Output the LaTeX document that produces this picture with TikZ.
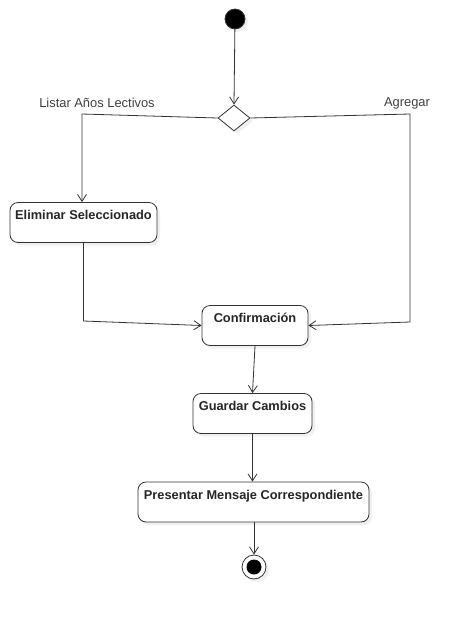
\documentclass[tikz,border=0pt]{standalone}
\usepackage{fontspec}
\setmainfont{Liberation Sans}
\usetikzlibrary{arrows.meta,shapes.geometric,shadows}

\begin{document}
\begin{tikzpicture}[
            x=1pt, y=-1pt,
            line width=0.8pt,
            every node/.style={draw=black!80, text=black!85},
            accion/.style={rectangle, rounded corners=8pt, fill=white,
                font=\fontsize{12.8}{14}\selectfont\bfseries,
                inner xsep=2pt, inner ysep=3pt, text height=14pt, text depth=20pt,
                drop shadow={opacity=0.12, shadow xshift=3pt, shadow yshift=-3pt}},
            flujo/.style={draw=black!80, -{Straight Barb[length=7pt,width=9pt]}},
            guarda/.style={draw=none, font=\fontsize{12.9}{14}\selectfont, text=black!75},
            ]
            \useasboundingbox (0,0) rectangle (470,619);
            % nodos
            \node[circle, fill=black, minimum size=20pt, inner sep=0pt,
                drop shadow={opacity=0.12, shadow xshift=3pt, shadow yshift=-3pt}] (inicio) at (235,19) {};
            \node[diamond, fill=white, minimum width=32pt, minimum height=26pt, inner sep=0pt,
                drop shadow={opacity=0.12, shadow xshift=3pt, shadow yshift=-3pt}] (decision) at (234,118) {};
            \node[accion, minimum width=147pt] (eliminar) at (83.5,222.5) {Eliminar Seleccionado};
            \node[accion, minimum width=106pt] (confirmar) at (255,325.5) {Confirmación};
            \node[accion, minimum width=119pt] (guardar) at (252.5,413.5) {Guardar Cambios};
            \node[accion, minimum width=231pt] (presentar) at (253.5,502) {Presentar Mensaje Correspondiente};
            \node[circle, draw=black!80, fill=white, minimum size=24pt, inner sep=0pt,
                drop shadow={opacity=0.12, shadow xshift=3pt, shadow yshift=-3pt}] (fin) at (254,567) {};
            \node[circle, draw=none, fill=black, minimum size=15pt, inner sep=0pt] (finpunto) at (fin) {};
            % etiquetas
            \node[guarda] (listar) at (97,103) {Listar Años Lectivos};
            \node[guarda] (agregar) at (407,103) {Agregar};
            % puntos de quiebre
            \coordinate (qizq) at (82,114);
            \coordinate (qder) at (410,114);
            \coordinate (qderabajo) at (410,322);
            \coordinate (qelim) at (83.5,321);
            % conectores
            \draw[flujo] (inicio) -- (decision.north);
            \draw[flujo] (decision.west) -- (qizq) -- (eliminar.north -| qizq);
            \draw[flujo] (decision.east) -- (qder) -- (qderabajo) -- (confirmar.east);
            \draw[flujo] (eliminar.south) -- (qelim) -- (confirmar.west);
            \draw[flujo] (confirmar.south) -- (guardar.north);
            \draw[flujo] (guardar.south) -- (guardar.south |- presentar.north);
            \draw[flujo] (presentar.south -| fin) -- (fin.north);
        \end{tikzpicture}
\end{document}
